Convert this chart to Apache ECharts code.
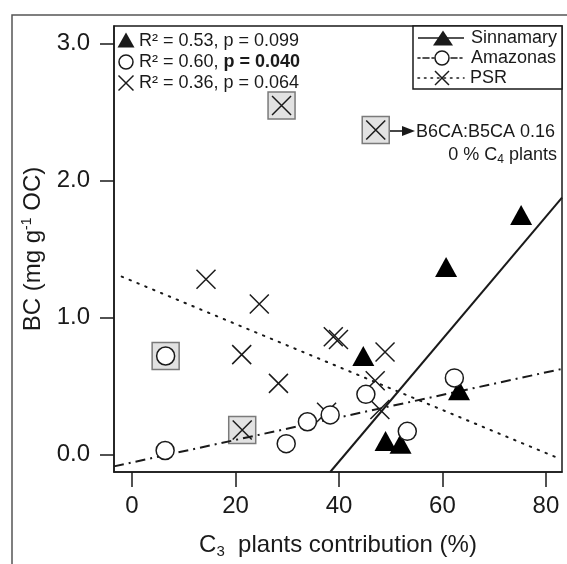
<!DOCTYPE html>
<html>
<head>
<meta charset="utf-8">
<script src="https://cdn.jsdelivr.net/npm/echarts@6/dist/echarts.min.js"></script>
<style>
  html, body { margin: 0; padding: 0; background: #fff; }
  #chart { width: 567px; height: 564px; }
</style>
</head>
<body>
<div id="chart"></div>
<script>
// tick values
const xTicks = [0, 20, 40, 60, 80];
const yTicks = [0, 1, 2, 3];

// C3 contribution (%), BC (mg/g OC)
const sinnamary = [[44.7, 0.72], [49.0, 0.10], [51.9, 0.08], [60.7, 1.37], [63.2, 0.47], [75.2, 1.75]];
const amazonas = [[6.4, 0.03], [6.5, 0.72], [29.8, 0.08], [33.9, 0.24], [38.3, 0.29], [45.2, 0.44], [53.2, 0.17], [62.3, 0.56]];
const psr = [[28.9, 2.55], [47.1, 2.37], [21.3, 0.18], [14.3, 1.28], [24.6, 1.10], [21.2, 0.73], [28.3, 0.52],
  [38.9, 0.86], [39.9, 0.84], [48.9, 0.75], [47.0, 0.54], [47.9, 0.33], [37.6, 0.31]];
// highlighted samples (grey boxes)
const boxed = [[6.5, 0.72], [28.9, 2.55], [47.1, 2.37], [21.3, 0.18]];

// regression lines (end points)
const sinFit = [[38.3, -0.127], [83.1, 1.877]];
const amaFit = [[-3.48, -0.086], [83.1, 0.626]];
const psrFit = [[-2.0, 1.30], [82.0, -0.02]];

const FONT = 'Liberation Sans, Arial, Helvetica, sans-serif';
const INK = '#1a1a1a';
const CROSS = 'path://M0,0L10,10M10,0L0,10';

const chart = echarts.init(document.getElementById('chart'));

const txt = (x, y, text, extra) => Object.assign({
  type: 'text', x: x, y: y,
  style: { text: text, fill: INK, font: '18px ' + FONT, textVerticalAlign: 'middle' }
}, extra || {});
const cross = (cx, cy, h) => ({
  type: 'group', children: [
    { type: 'line', shape: { x1: cx - h, y1: cy - h, x2: cx + h, y2: cy + h }, style: { stroke: INK, lineWidth: 1.5 } },
    { type: 'line', shape: { x1: cx + h, y1: cy - h, x2: cx - h, y2: cy + h }, style: { stroke: INK, lineWidth: 1.5 } }
  ]
});
const tri = (cx, cy, w, h) => ({
  type: 'polygon', shape: { points: [[cx, cy - h / 2], [cx + w / 2, cy + h / 2], [cx - w / 2, cy + h / 2]] },
  style: { fill: INK }
});
const circ = (cx, cy, r) => ({
  type: 'circle', shape: { cx: cx, cy: cy, r: r }, style: { fill: '#fff', stroke: INK, lineWidth: 1.5 }
});
const seg = (x1, y1, x2, y2, dash) => ({
  type: 'line', shape: { x1: x1, y1: y1, x2: x2, y2: y2 },
  style: { stroke: INK, lineWidth: 1.6, lineDash: dash || null, lineCap: dash && dash[0] <= 2 ? 'round' : 'butt' }
});

chart.setOption({
  animation: false,
  backgroundColor: '#fff',
  grid: { left: 114, top: 26, right: 5, bottom: 88.5, show: true, borderColor: INK, borderWidth: 1.5 },
  xAxis: {
    type: 'value', min: -3.48, max: 83.1,
    name: 'C{sub|3}  plants contribution (%)', nameLocation: 'middle', nameGap: 60,
    nameTextStyle: {
      color: INK, fontFamily: FONT, fontSize: 24,
      rich: { sub: { fontSize: 15, verticalAlign: 'bottom', padding: [12, 0, 0, 0], fontFamily: FONT, color: INK } }
    },
    splitLine: { show: false },
    axisLine: { show: true, onZero: false, lineStyle: { color: INK, width: 1.5 } },
    axisTick: { show: true, length: 15, lineStyle: { color: INK, width: 1.5 }, customValues: xTicks },
    axisLabel: { color: INK, fontFamily: FONT, fontSize: 24, margin: 22, customValues: xTicks }
  },
  yAxis: {
    type: 'value', min: -0.127, max: 3.13,
    name: 'BC (mg g{sup|-1} OC)', nameLocation: 'middle', nameGap: 68, nameRotate: 90,
    nameTextStyle: {
      color: INK, fontFamily: FONT, fontSize: 24,
      rich: { sup: { fontSize: 14, verticalAlign: 'top', padding: [0, 0, 12, 0], fontFamily: FONT, color: INK } }
    },
    splitLine: { show: false },
    axisLine: { show: true, onZero: false, lineStyle: { color: INK, width: 1.5 } },
    axisTick: { show: true, length: 14, lineStyle: { color: INK, width: 1.5 }, customValues: yTicks },
    axisLabel: { color: INK, fontFamily: FONT, fontSize: 24, margin: 24, customValues: yTicks,
      formatter: v => v.toFixed(1) }
  },
  series: [
    { type: 'scatter', data: boxed, symbol: 'rect', symbolSize: 27, z: 1,
      itemStyle: { color: '#e2e2e2', borderColor: '#7a7a7a', borderWidth: 1.5, opacity: 1 } },
    { type: 'line', data: sinFit, showSymbol: false, z: 2, lineStyle: { color: INK, width: 2 } },
    { type: 'line', data: amaFit, showSymbol: false, z: 2, lineStyle: { color: INK, width: 2, type: [10, 5, 2, 5] } },
    { type: 'line', data: psrFit, showSymbol: false, z: 2, lineStyle: { color: INK, width: 2, type: [1.5, 7], cap: 'round' } },
    { type: 'scatter', name: 'PSR', data: psr, symbol: CROSS, symbolSize: 19, z: 3,
      itemStyle: { color: 'rgba(0,0,0,0)', borderColor: INK, borderWidth: 1.5, opacity: 1 } },
    { type: 'scatter', name: 'Sinnamary', data: sinnamary, symbol: 'triangle', symbolSize: [22, 20], z: 4,
      itemStyle: { color: '#000', opacity: 1 } },
    { type: 'scatter', name: 'Amazonas', data: amazonas, symbol: 'circle', symbolSize: 18, z: 5,
      itemStyle: { color: '#fff', borderColor: INK, borderWidth: 1.5, opacity: 1 } }
  ],
  graphic: [
    // outer frame
    { type: 'rect', silent: true, shape: { x: 12, y: 15, width: 620, height: 620 },
      style: { fill: 'none', stroke: '#555', lineWidth: 1.5 } },
    // statistics, top left
    tri(126, 40, 17, 15), txt(139, 41, 'R² = 0.53, p = 0.099'),
    circ(126, 62, 7), txt(139, 62, '{a|R² = 0.60, }{b|p = 0.040}', {
      style: { text: '{a|R² = 0.60, }{b|p = 0.040}', fill: INK, textVerticalAlign: 'middle',
        rich: { a: { fontSize: 18, fontFamily: FONT, color: INK }, b: { fontSize: 18, fontFamily: FONT, fontWeight: 'bold', color: INK } } }
    }),
    cross(126, 83, 7.5), txt(139, 83, 'R² = 0.36, p = 0.064'),
    // legend, top right
    { type: 'rect', shape: { x: 413, y: 26, width: 149, height: 63 }, style: { fill: '#fff', stroke: INK, lineWidth: 1.5 } },
    seg(418, 38, 464, 38), tri(443, 38, 20, 15), txt(471, 38, 'Sinnamary'),
    seg(418, 58, 464, 58, [2, 3, 6, 3]), circ(442, 58, 7), txt(471, 58, 'Amazonas'),
    seg(418, 78, 464, 78, [1.5, 5]), cross(442, 78, 7), txt(470, 78, 'PSR'),
    // annotation
    seg(390, 131, 405, 131), { type: 'polygon', shape: { points: [[415, 131], [402, 126], [402, 136]] }, style: { fill: INK } },
    txt(416, 132, 'B6CA:B5CA 0.16'),
    { type: 'text', x: 557, y: 155, style: {
      text: '0 % C{s|4} plants', fill: INK, textAlign: 'right', textVerticalAlign: 'middle',
      rich: { s: { fontSize: 12, fontFamily: FONT, color: INK, padding: [10, 0, 0, 0] } },
      font: '18px ' + FONT } }
  ]
});
</script>
</body>
</html>
